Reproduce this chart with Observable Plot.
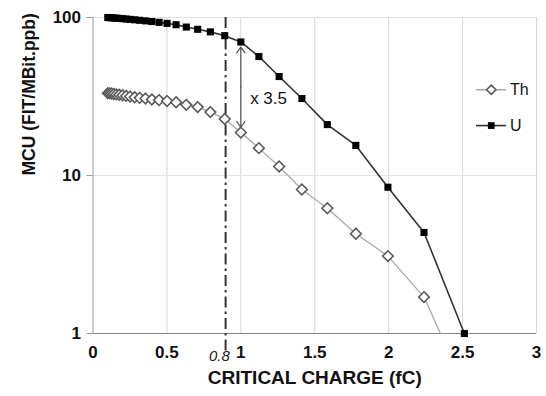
<!DOCTYPE html>
<html>
<head>
<meta charset="utf-8">
<script src="https://cdn.jsdelivr.net/npm/d3@7"></script>
<script src="https://cdn.jsdelivr.net/npm/@observablehq/plot@0.6"></script>
<style>
  html, body { margin: 0; padding: 0; background: #fff; }
  #chart svg { display: block; font-family: "Liberation Sans", Arial, sans-serif; }
</style>
</head>
<body>
<div id="chart"></div>
<script>
// Critical charge (fC) sample points
const charge = [0.100, 0.112, 0.126, 0.141, 0.158, 0.178, 0.200, 0.224, 0.251, 0.282,
                0.316, 0.355, 0.398, 0.447, 0.501, 0.562, 0.631, 0.708, 0.794, 0.891,
                1.000, 1.122, 1.259, 1.413, 1.585, 1.778, 1.995, 2.239, 2.512];
// MCU (FIT/MBit.ppb)
const uValues  = [100, 99.8, 99.6, 99.3, 99.0, 98.7, 98.3, 97.8, 97.3, 96.7,
                  96.0, 95.2, 94.3, 93.2, 91.8, 90.0, 87.0, 84.2, 81.1, 76.7,
                  70.0, 56.6, 42.3, 30.7, 21.0, 15.5, 8.43, 4.36, 1.0];
const thValues = [33.2, 33.1, 33.0, 32.8, 32.6, 32.4, 32.2, 31.9, 31.6, 31.3,
                  31.0, 30.7, 30.3, 30.0, 29.6, 29.1, 28.0, 27.1, 25.2, 22.8,
                  18.7, 14.9, 11.4, 8.16, 6.21, 4.28, 3.09, 1.70, 0.46];
const seriesNames = ["Th", "U"];
const xTicks = [0, 0.5, 1, 1.5, 2, 2.5, 3];
const yTicks = [1, 10, 100];
const xGrid = [0.5, 1, 1.5, 2, 2.5, 3];
const yGrid = [10, 100];
// annotations
const cutoff = [{x: 0.897, y1: 100, y2: 0.75, label: "0.8", lx: 0.855, ly: 0.715}];
const ratioArrow = [{x: 1.0, top: 65, bottom: 20.2, label: "x 3.5", lx: 1.063, ly: 30.7}];
const legendPos = [{name: "Th", y: 34.9}, {name: "U", y: 20.7}];
const legendX = {x1: 2.594, x2: 2.797, xm: 2.694, xt: 2.82};

const th = charge.map((c, i) => ({x: c, y: thValues[i]}));
const u  = charge.map((c, i) => ({x: c, y: uValues[i]}));
const mid = Math.sqrt(ratioArrow[0].top * ratioArrow[0].bottom);

const chart = Plot.plot({
  width: 546,
  height: 396,
  marginLeft: 92.5,
  marginRight: 10,
  marginTop: 17,
  marginBottom: 63,
  style: {fontFamily: "Liberation Sans, Arial, sans-serif", background: "#fff", overflow: "visible"},
  x: {domain: [0, 3]},
  y: {type: "log", domain: [1, 100]},
  marks: [
    Plot.ruleX(xGrid, {stroke: "#d6d6d6", strokeWidth: 1}),
    Plot.ruleY(yGrid, {stroke: "#e2e2e2", strokeWidth: 1}),
    Plot.ruleX([0], {stroke: "#999", strokeWidth: 1}),
    Plot.ruleY([1], {stroke: "#888", strokeWidth: 1}),
    Plot.axisY({ticks: yTicks, tickFormat: d => String(d), tickSize: 6, tickPadding: 6,
      fontSize: 17, fontWeight: "bold", stroke: "#999", fill: "#111", label: null}),
    Plot.axisX({ticks: xTicks, tickFormat: d => String(d), tickSize: 0, tickPadding: 12,
      fontSize: 17, fontWeight: "bold", fill: "#111", label: null}),
    Plot.text(["MCU (FIT/MBit.ppb)"], {frameAnchor: "left", rotate: -90, dx: -64,
      fontSize: 17.5, fontWeight: "bold", fill: "#111"}),
    Plot.text(["CRITICAL CHARGE (fC)"], {frameAnchor: "bottom", dy: 50,
      fontSize: 19, fontWeight: "bold", fill: "#111"}),
    // cutoff dash-dot line
    Plot.ruleX(cutoff, {x: "x", y1: "y1", y2: "y2", stroke: "#333", strokeWidth: 2,
      strokeDasharray: "11,4,2.5,4"}),
    Plot.text(cutoff, {x: "lx", y: "ly", text: "label", fontSize: 15, fontStyle: "italic", fill: "#222"}),
    // Th series
    Plot.line(th, {x: "x", y: "y", stroke: "#a8a8a8", strokeWidth: 1.3, clip: true}),
    Plot.dot(th, {x: "x", y: "y", symbol: "diamond2", r: 4.8, stroke: "#5a5a5a",
      strokeWidth: 1.6, fill: "#fff", clip: true}),
    // U series
    Plot.line(u, {x: "x", y: "y", stroke: "#333", strokeWidth: 1.6}),
    Plot.dot(u, {x: "x", y: "y", symbol: "square", r: 4, fill: "#000", stroke: "none"}),
    // ratio arrow
    Plot.arrow(ratioArrow, {x1: "x", x2: "x", y1: () => mid, y2: "top", stroke: "#555",
      strokeWidth: 1.2, headAngle: 70, headLength: 9}),
    Plot.arrow(ratioArrow, {x1: "x", x2: "x", y1: () => mid, y2: "bottom", stroke: "#555",
      strokeWidth: 1.2, headAngle: 70, headLength: 9}),
    Plot.text(ratioArrow, {x: "lx", y: "ly", text: "label", textAnchor: "start",
      fontSize: 17, fill: "#111"}),
    // legend
    Plot.ruleY(legendPos, {y: "y", x1: () => legendX.x1, x2: () => legendX.x2,
      stroke: d => d.name === "Th" ? "#a8a8a8" : "#333", strokeWidth: d => d.name === "Th" ? 1.5 : 1.6}),
    Plot.dot(legendPos.filter(d => d.name === "Th"), {x: () => legendX.xm, y: "y", symbol: "diamond2",
      r: 4.2, stroke: "#5a5a5a", strokeWidth: 1.6, fill: "#fff"}),
    Plot.dot(legendPos.filter(d => d.name === "U"), {x: () => legendX.xm, y: "y", symbol: "square",
      r: 3.8, fill: "#000"}),
    Plot.text(legendPos, {x: () => legendX.xt, y: "y", text: "name", textAnchor: "start",
      fontSize: 16, fill: "#111"})
  ]
});
document.getElementById("chart").appendChild(chart);
</script>
</body>
</html>
